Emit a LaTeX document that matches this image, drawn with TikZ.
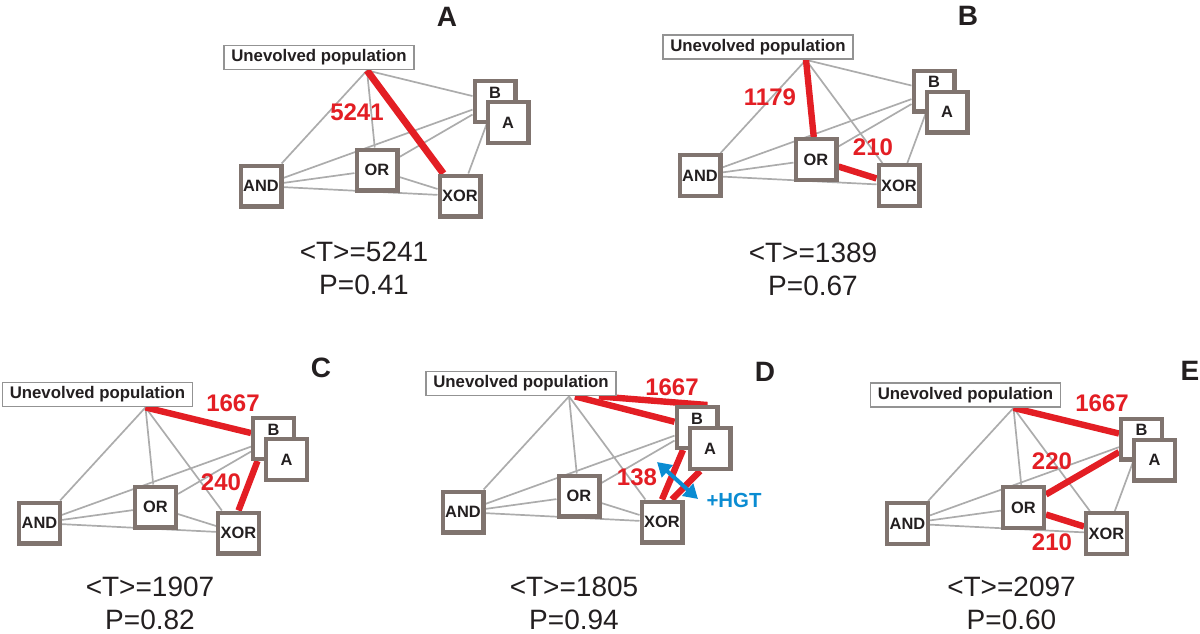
\documentclass[tikz,border=0pt]{standalone}
\usepackage{fontspec}
\setmainfont{Liberation Sans}
\usepackage{tikz}
\usetikzlibrary{backgrounds,arrows.meta}
\definecolor{boxgray}{RGB}{128,116,111}
\definecolor{linegray}{RGB}{172,172,172}
\definecolor{hotred}{RGB}{227,30,36}
\definecolor{hgtblue}{RGB}{10,140,210}
\definecolor{ink}{RGB}{35,31,32}

\begin{document}
\begin{tikzpicture}[x=0.5pt,y=-0.5pt,
			gatebox/.style={draw=boxgray, fill=white, line width=2.1pt, minimum size=20.4pt, inner sep=0pt, text=ink, font=\fontsize{8.2}{9}\selectfont\bfseries},
			popbox/.style={draw=gray!85, fill=white, line width=0.9pt, minimum width=95pt, minimum height=12pt, inner sep=0pt, text=ink, font=\fontsize{8.4}{9}\selectfont\bfseries},
			grayedge/.style={draw=linegray, line width=0.85pt},
			rededge/.style={draw=hotred, line width=3.2pt},
			wlabel/.style={text=hotred, font=\fontsize{12}{14}\selectfont\bfseries},
			statlabel/.style={text=ink, align=center, font=\fontsize{14}{16.5}\selectfont},
			panellabel/.style={text=ink, font=\fontsize{14}{16}\selectfont\bfseries}
		]
		\useasboundingbox (0,0) rectangle (1200,633);

		\node[popbox] (upA) at (319,57.5) {Unevolved population};
		\node[gatebox] (bA) at (495,101.5) {\raisebox{9pt}{B}};
		\node[gatebox] (aA) at (508,122.5) {A};
		\node[gatebox] (andA) at (261,186) {AND};
		\node[gatebox] (orA) at (377,170) {OR};
		\node[gatebox] (xorA) at (460,196) {XOR};
		\coordinate (hA) at ([xshift=24pt]upA.south);

		\begin{scope}[on background layer]
			\draw[grayedge] (hA) -- (andA);
			\draw[grayedge] (hA) -- (orA);
			\draw[grayedge] (hA) -- (bA);
			\draw[grayedge] (andA) -- (bA);
			\draw[grayedge] (andA) -- (orA);
			\draw[grayedge] (andA) -- (xorA);
			\draw[grayedge] (orA) -- (bA);
			\draw[grayedge] (orA) -- (xorA);
			\draw[grayedge] (xorA) -- (bA);
			\draw[rededge, line width=3.5pt] (hA) -- (xorA);
		\end{scope}

		\node[wlabel] (wA1) at (357,112) {5241};
		\node[panellabel] (pA) at (447,17) {A};
		\node[statlabel] (sA) at (364,268.5) {<T>=5241\\P=0.41};

		\node[popbox] (upB) at (758,47) {Unevolved population};
		\node[gatebox] (bB) at (934,91) {\raisebox{9pt}{B}};
		\node[gatebox] (aB) at (947,112) {A};
		\node[gatebox] (andB) at (700,175.5) {AND};
		\node[gatebox] (orB) at (816,159.5) {OR};
		\node[gatebox] (xorB) at (899,185.5) {XOR};
		\coordinate (hB) at ([xshift=24pt]upB.south);

		\begin{scope}[on background layer]
			\draw[grayedge] (hB) -- (andB);
			\draw[grayedge] (hB) -- (bB);
			\draw[grayedge] (hB) -- (xorB);
			\draw[grayedge] (andB) -- (bB);
			\draw[grayedge] (andB) -- (orB);
			\draw[grayedge] (andB) -- (xorB);
			\draw[grayedge] (orB) -- (bB);
			\draw[grayedge] (xorB) -- (bB);
			\draw[rededge] (hB) -- (orB);
			\draw[rededge] (orB) -- (xorB);
		\end{scope}

		\node[wlabel] (wB1) at (770,97) {1179};
		\node[wlabel] (wB2) at (873,147) {210};
		\node[panellabel] (pB) at (968,16) {B};
		\node[statlabel] (sB) at (813,269) {<T>=1389\\P=0.67};

		\node[popbox] (upC) at (97.5,394.5) {Unevolved population};
		\node[gatebox] (bC) at (273.5,438.5) {\raisebox{9pt}{B}};
		\node[gatebox] (aC) at (286.5,459.5) {A};
		\node[gatebox] (andC) at (39.5,523) {AND};
		\node[gatebox] (orC) at (155.5,507) {OR};
		\node[gatebox] (xorC) at (238.5,533) {XOR};
		\coordinate (hC) at ([xshift=24pt]upC.south);

		\begin{scope}[on background layer]
			\draw[grayedge] (hC) -- (andC);
			\draw[grayedge] (hC) -- (orC);
			\draw[grayedge] (hC) -- (xorC);
			\draw[grayedge] (andC) -- (bC);
			\draw[grayedge] (andC) -- (orC);
			\draw[grayedge] (andC) -- (xorC);
			\draw[grayedge] (orC) -- (bC);
			\draw[grayedge] (orC) -- (xorC);
			\draw[rededge] (hC) -- (bC);
			\draw[rededge] ([xshift=-8pt]bC.south) -- (xorC.north);
		\end{scope}

		\node[wlabel] (wC1) at (233,403) {1667};
		\node[wlabel] (wC2) at (221,482) {240};
		\node[panellabel] (pC) at (321,368) {C};
		\node[statlabel] (sC) at (150,603) {<T>=1907\\P=0.82};

		\node[popbox] (upD) at (521,383.5) {Unevolved population};
		\node[gatebox] (bD) at (697,427.5) {\raisebox{9pt}{B}};
		\node[gatebox] (aD) at (710,448.5) {A};
		\node[gatebox] (andD) at (463,512) {AND};
		\node[gatebox] (orD) at (579,496) {OR};
		\node[gatebox] (xorD) at (662,522) {XOR};
		\coordinate (hD) at ([xshift=24pt]upD.south);

		\begin{scope}[on background layer]
			\draw[grayedge] (hD) -- (andD);
			\draw[grayedge] (hD) -- (orD);
			\draw[grayedge] (hD) -- (xorD);
			\draw[grayedge] (andD) -- (bD);
			\draw[grayedge] (andD) -- (orD);
			\draw[grayedge] (andD) -- (xorD);
			\draw[grayedge] (orD) -- (bD);
			\draw[grayedge] (orD) -- (xorD);
			\draw[rededge] ([xshift=3pt]hD) -- (bD);
			\draw[rededge] ([xshift=-9pt]upD.south east) -- ([xshift=-6pt]bD.north east);
			\draw[rededge] ([xshift=-7pt]bD.south) -- (xorD.north);
			\draw[rededge] ([xshift=-5pt]aD.south) -- ([xshift=5pt]xorD.north);
		\end{scope}

		\coordinate (hgtS) at (657,462);
		\coordinate (hgtE) at (698,499);
		\draw[hgtblue, line width=2pt, {Triangle[length=7pt,width=8pt]}-{Triangle[length=7pt,width=8pt]}] (hgtS) -- (hgtE);

		\node[wlabel] (wD1) at (672,387) {1667};
		\node[wlabel] (wD2) at (637,477) {138};
		\node[text=hgtblue, font=\fontsize{10.2}{12}\selectfont\bfseries] (hgtL) at (734,500) {+HGT};
		\node[panellabel] (pD) at (765,372) {D};
		\node[statlabel] (sD) at (574,603) {<T>=1805\\P=0.94};

		\node[popbox] (upE) at (965.5,395) {Unevolved population};
		\node[gatebox] (bE) at (1141.5,439) {\raisebox{9pt}{B}};
		\node[gatebox] (aE) at (1154.5,460) {A};
		\node[gatebox] (andE) at (907.5,523.5) {AND};
		\node[gatebox] (orE) at (1023.5,507.5) {OR};
		\node[gatebox] (xorE) at (1106.5,533.5) {XOR};
		\coordinate (hE) at ([xshift=24pt]upE.south);

		\begin{scope}[on background layer]
			\draw[grayedge] (hE) -- (andE);
			\draw[grayedge] (hE) -- (orE);
			\draw[grayedge] (hE) -- (xorE);
			\draw[grayedge] (andE) -- (bE);
			\draw[grayedge] (andE) -- (orE);
			\draw[grayedge] (andE) -- (xorE);
			\draw[grayedge] (xorE) -- (bE);
			\draw[rededge] (hE) -- (bE);
			\draw[rededge] (orE) -- (bE);
			\draw[rededge] (orE) -- (xorE);
		\end{scope}

		\node[wlabel] (wE1) at (1102,403) {1667};
		\node[wlabel] (wE2) at (1052,461) {220};
		\node[wlabel] (wE3) at (1052,542) {210};
		\node[panellabel] (pE) at (1190,371) {E};
		\node[statlabel] (sE) at (1011.5,603) {<T>=2097\\P=0.60};
	\end{tikzpicture}
\end{document}
